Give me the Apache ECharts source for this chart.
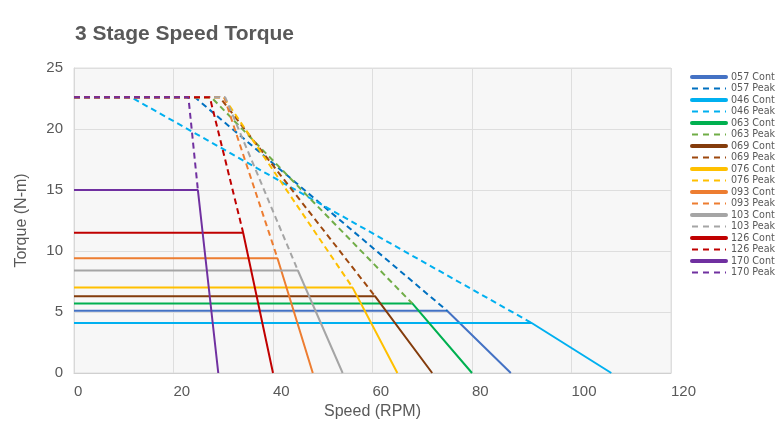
<!DOCTYPE html>
<html>
<head>
<meta charset="utf-8">
<script src="https://cdn.jsdelivr.net/npm/echarts@6/dist/echarts.min.js"></script>
<style>html,body{margin:0;padding:0;background:#fff;}#c{width:784px;height:423px;}</style>
</head>
<body>
<div id="c"></div>
<script>
const categories = ['057', '046', '063', '069', '076', '093', '103', '126', '170'];
const contTorque = [5.1, 4.1, 5.7, 6.3, 7.0, 9.4, 8.4, 11.5, 15.0];
const cornerSpeed = [75, 92, 68, 60.5, 56, 40.9, 45, 34, 24.9];
const noLoadSpeed = [87.8, 108, 80, 72, 65, 48, 54, 40, 29];
const peakTorque = 22.6;
const peakStartSpeed = [24.3, 11.5, 27.6, 29.3, 30.1, 30.2, 30.4, 27.3, 23.0];
const contColors = ['#4472C4', '#00B0F0', '#00B050', '#843C0C', '#FFC000', '#ED7D31', '#A5A5A5', '#C00000', '#7030A0'];
const peakColors = ['#0070C0', '#00B0F0', '#70AD47', '#9E480E', '#FFC000', '#ED7D31', '#A5A5A5', '#C00000', '#7030A0'];
const xTicks = [0, 20, 40, 60, 80, 100, 120];
const yTicks = [0, 5, 10, 15, 20, 25];

const series = [];
const legendData = [];
categories.forEach((c, i) => {
  series.push({
    name: c + ' Cont', type: 'line', symbol: 'none', animation: false,
    lineStyle: { color: contColors[i], width: 2 },
    itemStyle: { color: contColors[i] },
    data: [[0, contTorque[i]], [cornerSpeed[i], contTorque[i]], [noLoadSpeed[i], 0]]
  });
  series.push({
    name: c + ' Peak', type: 'line', symbol: 'none', animation: false,
    lineStyle: { color: peakColors[i], width: 2, type: [6, 4] },
    itemStyle: { color: peakColors[i] },
    data: [[0, peakTorque], [peakStartSpeed[i], peakTorque], [cornerSpeed[i], contTorque[i]]]
  });
  legendData.push({ name: c + ' Cont', lineStyle: { width: 4, color: contColors[i], cap: 'round' } });
  legendData.push({ name: c + ' Peak', lineStyle: { width: 2, color: peakColors[i], type: [6, 5] } });
});

const chart = echarts.init(document.getElementById('c'));
chart.setOption({
  animation: false,
  backgroundColor: '#ffffff',
  title: {
    text: '3 Stage Speed Torque', left: 70, top: 19,
    textStyle: { fontFamily: 'Liberation Sans, Arial, sans-serif', fontSize: 21, fontWeight: 'bold', color: '#595959' }
  },
  grid: {
    left: 74, right: 113, top: 68, bottom: 50, show: true,
    outerBoundsMode: 'none',
    backgroundColor: '#f7f7f7', borderColor: '#dedede', borderWidth: 1
  },
  legend: {
    orient: 'vertical', left: 690, top: 72, padding: 0,
    itemWidth: 34, itemHeight: 8, itemGap: 1.5,
    itemStyle: { opacity: 0 },
    data: legendData,
    textStyle: { fontFamily: 'DejaVu Sans, sans-serif', fontSize: 9.6, color: '#595959' }
  },
  xAxis: {
    type: 'value', min: xTicks[0], max: xTicks[xTicks.length - 1], interval: 20,
    name: 'Speed (RPM)', nameLocation: 'middle', nameGap: 28,
    nameTextStyle: { fontFamily: 'Liberation Sans, Arial, sans-serif', fontSize: 16, color: '#595959' },
    axisLine: { show: true, lineStyle: { color: '#d0d0d0' } },
    axisTick: { show: false },
    axisLabel: { align: 'left', margin: 11, fontFamily: 'Liberation Sans, Arial, sans-serif', fontSize: 15, color: '#595959' },
    splitLine: { show: true, lineStyle: { color: '#dedede' } }
  },
  yAxis: {
    type: 'value', min: yTicks[0], max: yTicks[yTicks.length - 1], interval: 5,
    name: 'Torque (N-m)', nameLocation: 'middle', nameGap: 44,
    nameTextStyle: { fontFamily: 'Liberation Sans, Arial, sans-serif', fontSize: 16, color: '#595959' },
    axisLine: { show: true, lineStyle: { color: '#d8d8d8' } },
    axisTick: { show: false },
    axisLabel: { margin: 11, fontFamily: 'Liberation Sans, Arial, sans-serif', fontSize: 15, color: '#595959' },
    splitLine: { show: true, lineStyle: { color: '#dedede' } }
  },
  series: series
});
</script>
</body>
</html>
